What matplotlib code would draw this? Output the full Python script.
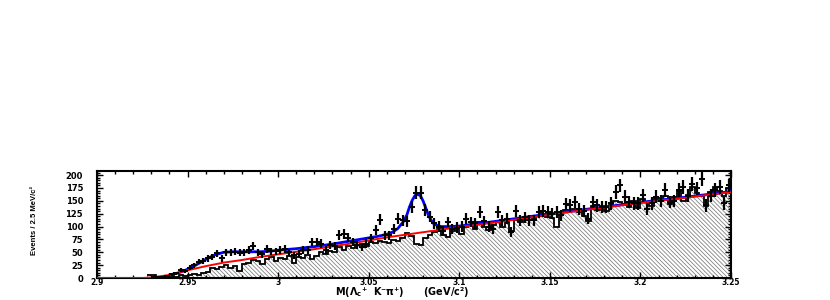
import numpy as np
import matplotlib
matplotlib.use("Agg")
import matplotlib.pyplot as plt
from matplotlib.ticker import MultipleLocator

# ---------------- data ----------------
bin_lo = 2.90
bin_width = 0.0025
n_bins = 140

data_counts = [
    0, 0, 0, 0, 0, 0, 0, 0, 0, 0,            # 0-9
    0, 0, 1, 2, 2, 3, 7, 9, 15, 13,          # 10-19
    20, 25, 32, 34, 38, 41, 48, 38, 50, 50,  # 20-29
    51, 49, 50, 54, 63, 50, 46, 56, 52, 52,  # 30-39
    55, 57, 50, 44, 47, 54, 54, 70, 70, 67,  # 40-49
    54, 64, 62, 84, 86, 78, 70, 64, 60, 67,  # 50-59
    77, 93, 113, 83, 83, 96, 115, 112, 110, 138,   # 60-69
    166, 166, 132, 119, 106, 100, 92, 109, 96, 98, # 70-79
    100, 115, 109, 106, 128, 110, 100, 96, 128, 112,   # 80-89
    115, 90, 131, 112, 118, 112, 112, 128, 131, 128,   # 90-99
    125, 128, 122, 144, 141, 148, 135, 131, 115, 148,  # 100-109
    141, 138, 138, 145, 167, 180, 158, 148, 145, 145,  # 110-119
    161, 135, 145, 158, 150, 171, 148, 150, 171, 177,  # 120-129
    160, 183, 174, 193, 141, 160, 171, 177, 145, 180,  # 130-139
]

sideband_counts = [
    0, 0, 0, 0, 0, 0, 0, 0, 0, 0,            # 0-9
    0, 5, 5, 1, 1, 2, 3, 2, 5, 3,            # 10-19
    6, 8, 5, 10, 12, 20, 18, 22, 25, 20,     # 20-29
    24, 14, 28, 30, 35, 33, 28, 36, 40, 34,  # 30-39
    38, 36, 42, 30, 40, 38, 44, 36, 42, 50,  # 40-49
    46, 52, 50, 60, 55, 62, 58, 64, 66, 62,  # 50-59
    70, 68, 72, 70, 68, 74, 72, 78, 88, 82,  # 60-69
    66, 64, 78, 84, 90, 96, 84, 80, 92, 98,  # 70-79
    86, 100, 104, 96, 108, 100, 94, 104, 110, 100,     # 80-89
    108, 92, 112, 108, 116, 118, 112, 120, 124, 118,   # 90-99
    116, 100, 128, 132, 130, 134, 128, 120, 110, 140,  # 100-109
    132, 140, 130, 142, 150, 148, 144, 138, 150, 136,  # 110-119
    154, 148, 140, 156, 150, 160, 144, 158, 170, 150,  # 120-129
    162, 176, 166, 160, 140, 168, 176, 170, 160, 175,  # 130-139
]

# background fit (red) read at knots
bkg_mass = [2.900, 2.925, 2.930, 2.940, 2.950, 2.960, 2.970, 2.980, 2.990,
            3.000, 3.020, 3.040, 3.060, 3.080, 3.100, 3.120, 3.140, 3.160,
            3.180, 3.200, 3.220, 3.250]
bkg_fit = [0, 0, 1, 6, 15, 23, 30, 35, 41,
           46, 56, 67, 79, 89, 99, 108, 118, 128,
           137, 146, 154, 167]

# total fit (blue) read at knots
total_mass = [2.940, 2.945, 2.950, 2.955, 2.960, 2.965, 2.970, 2.975, 2.980,
              2.985, 2.990, 2.995, 3.000, 3.010, 3.020, 3.030, 3.040, 3.045,
              3.050, 3.055, 3.060, 3.063, 3.066, 3.069, 3.071, 3.0725, 3.074,
              3.0755, 3.077, 3.0785, 3.080, 3.0815, 3.083, 3.0845, 3.086,
              3.088, 3.090, 3.095, 3.100, 3.120, 3.140, 3.160, 3.180, 3.200,
              3.220, 3.250]
total_fit = [6, 10, 17, 26, 36, 45, 50, 51, 51,
             51, 51, 52, 54, 57, 61, 66, 72, 75,
             78, 81, 85, 89, 96, 109, 122, 138, 151,
             160, 163, 160, 150, 136, 122, 112, 105,
             102, 100, 100, 101, 110, 120, 129, 138, 147,
             155, 168]

x_ticks = [2.9, 2.95, 3.0, 3.05, 3.1, 3.15, 3.2, 3.25]
x_tick_labels = ["2.9", "2.95", "3", "3.05", "3.1", "3.15", "3.2", "3.25"]
y_ticks = [0, 25, 50, 75, 100, 125, 150, 175, 200]
y_tick_labels = ["0", "25", "50", "75", "100", "125", "150", "175", "200"]

x_label = "M(Λ$_\\mathbf{c}$⁺  K⁻π⁺)      (GeV/c²)"
y_label = "Events / 2.5 MeV/c²"

# ---------------- plotting ----------------
plt.rcParams["font.family"] = ["DejaVu Sans"]
plt.rcParams["hatch.linewidth"] = 0.55

fig = plt.figure(figsize=(8.3, 3.0), dpi=100)
ax = fig.add_axes([0.1169, 0.0733, 0.7638, 0.3567])

edges = bin_lo + bin_width * np.arange(n_bins + 1)
centers = 0.5 * (edges[:-1] + edges[1:])
data = np.array(data_counts, dtype=float)
side = np.array(sideband_counts, dtype=float)

first = int(np.argmax(side > 0))
ax.stairs(side[first:], edges[first:], fill=True, hatch="\\" * 8,
          facecolor="white", edgecolor="#7a7a7a", linewidth=0, zorder=1)
ax.stairs(side[first:], edges[first:], color="black", linewidth=1.3,
          baseline=None, zorder=2)

ax.plot(total_mass, total_fit, color="#0000ff", linewidth=2.0, zorder=3)
ax.plot(bkg_mass, bkg_fit, color="#ff0000", linewidth=1.4, zorder=4)

mask = data > 0
ax.errorbar(centers[mask], data[mask], yerr=np.sqrt(data[mask]), fmt="_",
            markersize=5, markeredgewidth=1.4, color="black",
            elinewidth=1.6, capsize=0, zorder=5)

ax.set_xlim(2.9, 3.25)
ax.set_ylim(0, 208)
ax.set_xticks(x_ticks)
ax.set_xticklabels(x_tick_labels)
ax.set_yticks(y_ticks)
ax.set_yticklabels(y_tick_labels)
ax.xaxis.set_minor_locator(MultipleLocator(0.01))
ax.yaxis.set_minor_locator(MultipleLocator(5))
ax.tick_params(which="both", direction="in", top=True, right=True, width=1.0)
ax.tick_params(which="major", length=4)
ax.tick_params(which="minor", length=2)
ax.tick_params(axis="x", pad=0.0, labelsize=5.5)
ax.tick_params(axis="y", pad=10, labelsize=6)
for lab in ax.get_xticklabels() + ax.get_yticklabels():
    lab.set_fontweight("bold")
for sp in ax.spines.values():
    sp.set_linewidth(1.5)

fig.text(0.4843, 0.002, x_label, ha="center", va="bottom", fontsize=7,
         fontweight="bold")
fig.text(0.042, 0.265, y_label, rotation=90, ha="center", va="center",
         fontsize=5.5, fontweight="bold",
         family=["Liberation Sans", "DejaVu Sans"])

fig.savefig("out.png", dpi=100)
